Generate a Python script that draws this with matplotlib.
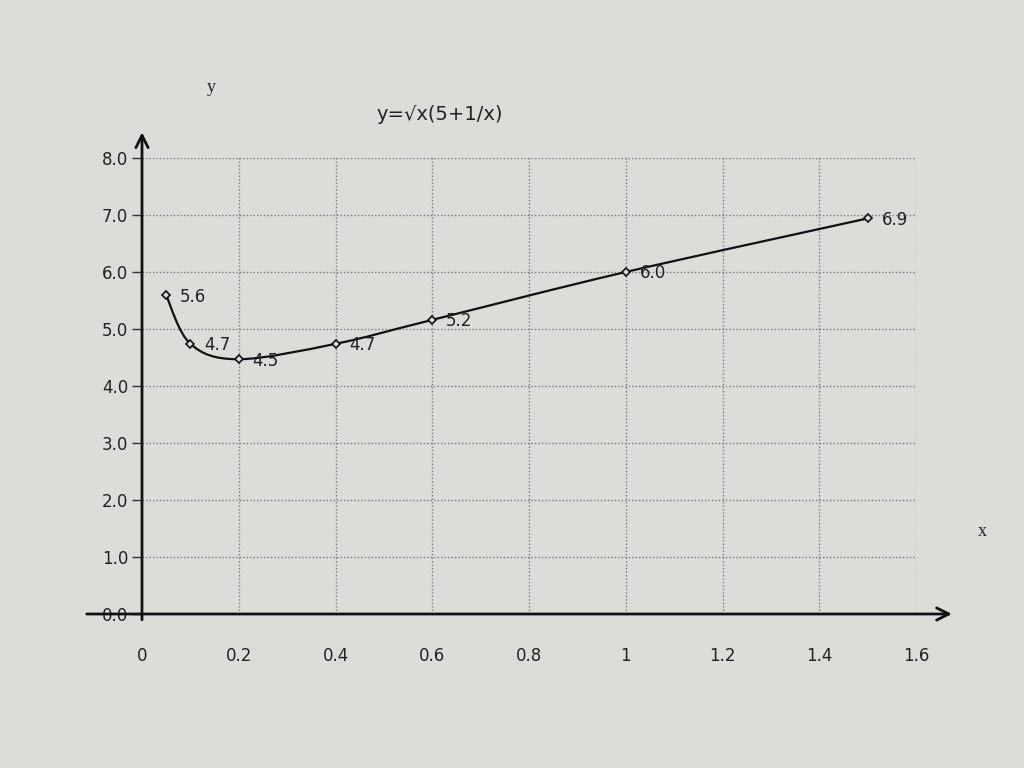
import numpy as np
import matplotlib
matplotlib.use("Agg")
import matplotlib.pyplot as plt
from matplotlib.path import Path
from matplotlib.patches import PathPatch

# Data
x_values = [0.05, 0.1, 0.2, 0.4, 0.6, 1.0, 1.5]
y_values = [5.59, 4.74, 4.47, 4.74, 5.16, 6.00, 6.94]
x_ticks = [0, 0.2, 0.4, 0.6, 0.8, 1.0, 1.2, 1.4, 1.6]
x_tick_labels = ["0", "0.2", "0.4", "0.6", "0.8", "1", "1.2", "1.4", "1.6"]
y_ticks = [0, 1, 2, 3, 4, 5, 6, 7, 8]
y_tick_labels = ["0.0", "1.0", "2.0", "3.0", "4.0", "5.0", "6.0", "7.0", "8.0"]
title = "y=\u221ax(5+1/x)"

bg = "#dcdcd9"
W, H = 1024, 768
fig = plt.figure(figsize=(W / 100, H / 100), dpi=100, facecolor=bg)
L, R, T, B = 142, 916, 158, 614
ax = fig.add_axes([L / W, 1 - B / H, (R - L) / W, (B - T) / H], facecolor=bg)
ax.set_xlim(0, 1.6)
ax.set_ylim(0, 8)
for s in ax.spines.values():
    s.set_visible(False)

# grid
for gx in x_ticks[1:]:
    ax.plot([gx, gx], [0, 8], ls=(0, (1, 1.5)), color="#7a7a7a", lw=1.0, zorder=1)
for gy in y_ticks[1:]:
    ax.plot([0, 1.6], [gy, gy], ls=(0, (1, 1.5)), color="#7a7a7a", lw=1.0, zorder=1)

ax.set_xticks(x_ticks)
ax.set_xticklabels(x_tick_labels)
ax.set_yticks(y_ticks)
ax.set_yticklabels(y_tick_labels)
ax.tick_params(axis="x", length=0, pad=24, labelsize=12, labelcolor="#222222")
ax.tick_params(axis="y", length=7, width=1, direction="out", pad=3, labelsize=12,
               labelcolor="#222222", color="#333333")

# axes arrows
ax.annotate("", xy=(1.68, 0), xytext=(-0.12, 0), xycoords="data",
            arrowprops=dict(arrowstyle="->", lw=2.0, color="#111111",
                            mutation_scale=22), annotation_clip=False, zorder=5)
ax.annotate("", xy=(0, 8.5), xytext=(0, -0.15), xycoords="data",
            arrowprops=dict(arrowstyle="->", lw=2.0, color="#111111",
                            mutation_scale=22), annotation_clip=False, zorder=5)

# smooth curve (Bezier through points, computed in display space)
pts = ax.transData.transform(np.column_stack([x_values, y_values]))
n = len(pts)
verts = [pts[0]]
codes = [Path.MOVETO]
t = 1 / 6
for i in range(n - 1):
    p0 = pts[i - 1] if i > 0 else pts[i]
    p1 = pts[i]
    p2 = pts[i + 1]
    p3 = pts[i + 2] if i + 2 < n else pts[i + 1]
    c1 = p1 + (p2 - p0) * t
    c2 = p2 - (p3 - p1) * t
    verts += [c1, c2, p2]
    codes += [Path.CURVE4] * 3
verts = ax.transData.inverted().transform(np.array(verts))
ax.add_patch(PathPatch(Path(verts, codes), fill=False, lw=1.6, color="#111111", zorder=3))

ax.plot(x_values, y_values, ls="none", marker="D", ms=4.5, mfc=bg, mec="#111111",
        mew=1.2, zorder=4)
for xv, yv in zip(x_values, y_values):
    ax.annotate(f"{yv:.1f}", (xv, yv), xytext=(10, -1), textcoords="offset points",
                ha="left", va="center", fontsize=12, color="#222222", zorder=4)

fig.text(440 / W, 1 - 115 / H, title, ha="center", va="center", fontsize=14, color="#222222")
fig.text(211 / W, 1 - 87 / H, "y", ha="center", va="center", fontsize=13,
         family="Liberation Serif", color="#222222")
fig.text(982 / W, 1 - 532 / H, "x", ha="center", va="center", fontsize=13,
         family="Liberation Serif", color="#222222")

fig.savefig("out.png", dpi=100, facecolor=bg)
